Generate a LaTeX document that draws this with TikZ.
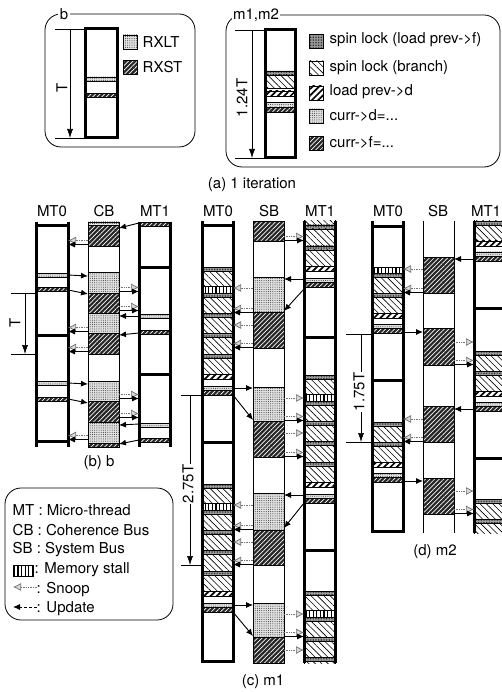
\documentclass[tikz,border=0pt]{standalone}
\usepackage{fontspec}
\setmainfont{TeX Gyre Heros}
\usetikzlibrary{patterns.meta,arrows.meta}
\tikzset{
 blk/.style={draw=black, line width=0.4pt},
 fxlt/.style={blk, preaction={fill=black!12}, pattern={Dots[distance=2.2pt,radius=0.5pt]}, pattern color=black!80},
 fxst/.style={blk, preaction={fill=black!85}, pattern={Lines[angle=45,distance=3.2pt,line width=0.7pt]}, pattern color=white},
 fgrey/.style={blk, preaction={fill=black!35}, pattern={Dots[distance=1.6pt,radius=0.45pt]}, pattern color=black},
 fbr/.style={blk, preaction={fill=white}, pattern={Lines[angle=-45,distance=4.5pt,line width=0.6pt]}, pattern color=black},
 fld/.style={blk, preaction={fill=white}, pattern={Lines[angle=45,distance=4.5pt,line width=1.7pt]}, pattern color=black},
 fstall/.style={blk, preaction={fill=white}, pattern={Lines[angle=90,distance=3.6pt,line width=1.2pt]}, pattern color=black},
 mtline/.style={line width=3pt},
 busline/.style={line width=0.8pt},
 boxline/.style={line width=0.8pt, rounded corners=16pt},
 dimarrow/.style={line width=0.6pt, -{Latex[length=9pt,width=6pt]}},
 updarrow/.style={line width=0.9pt, -{Latex[length=7pt,width=6pt]}},
 snparrow/.style={line width=0.7pt, black!55, densely dotted, -{Latex[length=8pt,width=8pt,fill=black!15]}},
 lbl/.style={font=\fontsize{15}{18}\selectfont, inner sep=0.5pt},
 dimlbl/.style={font=\fontsize{15}{18}\selectfont, inner sep=1pt, rotate=90},
}
\newcommand\upd[4]{\draw[updarrow] (#1,#2) -- (#3,#4);}
\newcommand\snp[3]{\draw[snparrow] (#1,#2) -- (#3,#2);}
\newcommand\su[3]{\draw[snparrow] (#1,#2-2.5) -- (#3,#2-2.5); \draw[updarrow] (#1,#2+1.5) -- (#3,#2+1.5);}
\newcommand\spinC[3]{%
 \path[fgrey] (#1,#3) rectangle (#2,#3+4.5);
 \path[fbr] (#1,#3+4.5) rectangle (#2,#3+19);
 \path[fstall] (#1,#3+19) rectangle (#2,#3+26);
 \path[fgrey] (#1,#3+26) rectangle (#2,#3+30);
 \path[fbr] (#1,#3+30) rectangle (#2,#3+46);
 \path[fgrey] (#1,#3+46) rectangle (#2,#3+50);
 \path[fbr] (#1,#3+50) rectangle (#2,#3+66);
 \path[fgrey] (#1,#3+66) rectangle (#2,#3+70);
 \path[fbr] (#1,#3+70) rectangle (#2,#3+87);
 \path[fgrey] (#1,#3+87) rectangle (#2,#3+91);
 \path[fbr] (#1,#3+91) rectangle (#2,#3+107);
 \path[fld] (#1,#3+107) rectangle (#2,#3+112);
 \path[fxlt] (#1,#3+119) rectangle (#2,#3+123);
 \path[fxst] (#1,#3+123) rectangle (#2,#3+128);}
\newcommand\spinD[3]{%
 \path[fgrey] (#1,#3) rectangle (#2,#3+4.5);
 \path[fbr] (#1,#3+4.5) rectangle (#2,#3+20);
 \path[fgrey] (#1,#3+20) rectangle (#2,#3+24.5);
 \path[fbr] (#1,#3+24.5) rectangle (#2,#3+40);
 \path[fld] (#1,#3+40) rectangle (#2,#3+45);
 \path[fxlt] (#1,#3+51) rectangle (#2,#3+55);
 \path[fxst] (#1,#3+55) rectangle (#2,#3+60);}
\newcommand\mtcol[4]{\draw[mtline] (#1,#3) -- (#1,#4); \draw[mtline] (#2,#3) -- (#2,#4);}
\newcommand\buscol[4]{\draw[busline] (#1,#3) -- (#1,#4); \draw[busline] (#2,#3) -- (#2,#4);}
\newcommand\itline[3]{\draw[mtline] (#1,#3) -- (#2,#3);}
\newcommand\arr{-{}>}
\begin{document}
\begin{tikzpicture}[x=1pt,y=-1pt]
\useasboundingbox (0,0) rectangle (502,692);
\fill[white] (0,0) rectangle (502,692);

% ---------- (a) box b ----------
\draw[boxline] (45,14) rectangle (195,147);
\node[lbl, fill=white, inner sep=1.5pt] (lab) at (64,14) {b};
\path[fxlt] (85,77) rectangle (117,81);
\path[fxst] (85,93) rectangle (117,97);
\draw[mtline] (85,29) rectangle (117,138);
\draw[line width=0.6pt] (55,29) -- (85,29);
\draw[line width=0.6pt] (55,138) -- (85,138);
\draw[dimarrow] (70,29) -- (70,138);
\node[dimlbl] (tlab) at (62,88) {T};
\path[fxlt] (123,35) rectangle (137,49);
\node[lbl, anchor=west] (rxlt) at (142,42) {RXLT};
\path[fxst] (123,60) rectangle (137,74);
\node[lbl, anchor=west] (rxst) at (142,67) {RXST};

% ---------- (a) box m1,m2 ----------
\draw[boxline] (226,15) rectangle (500,167);
\node[lbl, fill=white, inner sep=1.5pt] (lam) at (256,15) {m1,m2};
\path[fgrey] (265,71) rectangle (295,75);
\path[fbr] (265,75) rectangle (295,88);
\path[fld] (265,91) rectangle (295,96);
\path[fxlt] (265,102) rectangle (295,107);
\path[fxst] (265,107) rectangle (295,112);
\draw[mtline] (265,30) rectangle (295,158);
\draw[line width=0.6pt] (235,30) -- (265,30);
\draw[line width=0.6pt] (235,158) -- (265,158);
\draw[dimarrow] (252,30) -- (252,158);
\node[dimlbl] (mlab) at (242,98) {1.24T};
\path[fgrey] (309,34) rectangle (323,48);
\node[lbl, anchor=west] (l1) at (329,40) {spin lock (load prev\arr f)};
\path[fbr] (309,61) rectangle (323,75);
\node[lbl, anchor=west] (l2) at (329,68) {spin lock (branch)};
\path[fld] (309,86) rectangle (323,100);
\node[lbl, anchor=west] (l3) at (329,92) {load prev\arr d};
\path[fxlt] (309,109) rectangle (323,123);
\node[lbl, anchor=west] (l4) at (329,116) {curr\arr d=...};
\path[fxst] (309,136) rectangle (323,150);
\node[lbl, anchor=west] (l5) at (329,143) {curr\arr f=...};
\node[lbl] (capa) at (252,185) {(a) 1 iteration};

% ---------- (b) ----------
\node[lbl] (b0) at (52,211) {MT0};
\node[lbl] (b1) at (104,211) {CB};
\node[lbl] (b2) at (155,211) {MT1};
\path[fxlt] (88,222) rectangle (119,225);
\path[fxst] (88,225) rectangle (119,246);
\path[fxlt] (88,272) rectangle (119,293);
\path[fxst] (88,293) rectangle (119,313);
\path[fxlt] (88,313) rectangle (119,333);
\path[fxst] (88,333) rectangle (119,354);
\path[fxlt] (88,381) rectangle (119,401);
\path[fxst] (88,401) rectangle (119,422);
\path[fxlt] (88,422) rectangle (119,443);
\path[fxst] (88,443) rectangle (119,447);
\buscol{88}{119}{222}{447}
\path[fxlt] (36,273) rectangle (68,277);
\path[fxst] (36,287) rectangle (68,291);
\path[fxlt] (36,381) rectangle (68,385);
\path[fxst] (36,397) rectangle (68,401);
\mtcol{36}{68}{222}{447}
\itline{36}{68}{226}\itline{36}{68}{335}\itline{36}{68}{441}
\path[fxst] (139,222) rectangle (170,226);
\path[fxlt] (139,314) rectangle (170,318);
\path[fxst] (139,330) rectangle (170,334);
\path[fxlt] (139,423) rectangle (170,427);
\path[fxst] (139,438) rectangle (170,442);
\mtcol{139}{170}{222}{447}
\itline{139}{170}{267}\itline{139}{170}{374}
\upd{139}{223}{119}{228}
\su{88}{243}{68}
\upd{68}{275}{88}{276}
\upd{68}{290}{88}{294}
\su{119}{290}{139}
\su{119}{309}{139}
\upd{139}{316}{119}{316}
\su{88}{330}{68}
\upd{139}{333}{119}{335}
\su{88}{350}{68}
\upd{68}{383}{88}{384}
\upd{68}{399}{88}{403}
\su{119}{397}{139}
\su{119}{416}{139}
\upd{139}{424}{119}{425}
\su{88}{438}{68}
\upd{139}{440}{119}{444}
\draw[line width=0.6pt] (11,293) -- (36,293);
\draw[line width=0.6pt] (11,354) -- (36,354);
\draw[dimarrow] (25,293) -- (25,354);
\node[dimlbl] (tb) at (15,323) {T};
\node[lbl] (capb) at (99,463) {(b) b};

% ---------- (c) ----------
\node[lbl] (c0) at (218,211) {MT0};
\node[lbl] (c1) at (269,211) {SB};
\node[lbl] (c2) at (320,211) {MT1};
\path[fxst] (253,221) rectangle (284,241);
\path[fxlt] (253,277) rectangle (284,312);
\path[fxst] (253,312) rectangle (284,348);
\path[fxlt] (253,387) rectangle (284,421);
\path[fxst] (253,421) rectangle (284,457);
\path[fxlt] (253,493) rectangle (284,530);
\path[fxst] (253,530) rectangle (284,565);
\path[fxlt] (253,603) rectangle (284,637);
\path[fxst] (253,637) rectangle (284,663);
\buscol{253}{284}{221}{663}
\spinC{202}{233}{267}
\spinC{202}{233}{484}
\mtcol{202}{233}{221}{663}
\itline{202}{233}{226}\itline{202}{233}{442}\itline{202}{233}{661}
\begin{scope}
\clip (300,221) rectangle (340,663);
\spinC{304}{335}{159}
\spinC{304}{335}{375}
\spinC{304}{335}{591}
\end{scope}
\mtcol{304}{335}{221}{663}
\itline{304}{335}{337}\itline{304}{335}{550}
\su{284}{239}{304}
\upd{304}{279}{284}{279}
\upd{304}{289}{284}{311}
\snp{253}{288}{233}
\su{253}{311}{233}
\snp{253}{325}{233}
\su{253}{346}{233}
\upd{233}{388}{253}{388}
\upd{233}{395}{253}{420}
\snp{284}{398}{304}
\su{284}{419}{304}
\snp{284}{433}{304}
\su{284}{455}{304}
\upd{304}{495}{284}{495}
\upd{304}{503}{284}{528}
\snp{253}{505}{233}
\su{253}{528}{233}
\snp{253}{542}{233}
\su{253}{563}{233}
\upd{233}{605}{253}{605}
\upd{233}{612}{253}{636}
\snp{284}{614}{304}
\su{284}{635}{304}
\snp{284}{650}{304}
\draw[line width=0.6pt] (181,395) -- (202,395);
\draw[line width=0.6pt] (181,565) -- (202,565);
\draw[dimarrow] (190,395) -- (190,565);
\node[dimlbl, fill=white] (tc) at (188,484) {2.75T};
\node[lbl] (capc) at (263,682) {(c) m1};

% ---------- (d) ----------
\node[lbl] (d0) at (388,211) {MT0};
\node[lbl] (d1) at (438,211) {SB};
\node[lbl] (d2) at (486,211) {MT1};
\path[fxst] (423,257) rectangle (454,293);
\path[fxst] (423,328) rectangle (454,365);
\path[fxst] (423,406) rectangle (454,442);
\path[fxst] (423,478) rectangle (454,514);
\buscol{423}{454}{221}{533}
\path[fstall] (372,267) rectangle (403,273);
\spinD{372}{403}{273}
\spinD{372}{403}{422}
\mtcol{372}{403}{221}{533}
\itline{372}{403}{227}\itline{372}{403}{380}\itline{372}{403}{531}
\begin{scope}
\clip (470,221) rectangle (510,533);
\spinD{474}{505}{201}
\spinD{474}{505}{351}
\spinD{474}{505}{499}
\end{scope}
\mtcol{474}{505}{221}{533}
\itline{474}{505}{308}\itline{474}{505}{458}
\upd{474}{259}{454}{259}
\snp{423}{269}{403}
\su{423}{291}{403}
\upd{403}{332}{423}{332}
\snp{454}{342}{474}
\su{454}{363}{474}
\upd{474}{409}{454}{409}
\snp{423}{419}{403}
\su{423}{440}{403}
\upd{403}{481}{423}{481}
\snp{454}{491}{474}
\su{454}{512}{474}
\draw[line width=0.6pt] (346,334) -- (372,334);
\draw[line width=0.6pt] (346,442) -- (372,442);
\draw[dimarrow] (361,334) -- (361,442);
\node[dimlbl, fill=white] (td) at (359,392) {1.75T};
\node[lbl] (capd) at (435,552) {(d) m2};

% ---------- legend ----------
\draw[boxline] (5,488) rectangle (173,620);
\node[lbl, anchor=west] (g1) at (12,510) {MT : Micro-thread};
\node[lbl, anchor=west] (g2) at (12,530) {CB : Coherence Bus};
\node[lbl, anchor=west] (g3) at (12,550) {SB : System Bus};
\path[fstall] (13,565) rectangle (33,576);
\node[lbl, anchor=west] (g4) at (34,570) {: Memory stall};
\draw[snparrow] (37,587) -- (13,587);
\node[lbl, anchor=west] (g5) at (36,590) {: Snoop};
\draw[updarrow, densely dashed] (37,607) -- (13,607);
\node[lbl, anchor=west] (g6) at (36,609) {: Update};
\end{tikzpicture}
\end{document}
